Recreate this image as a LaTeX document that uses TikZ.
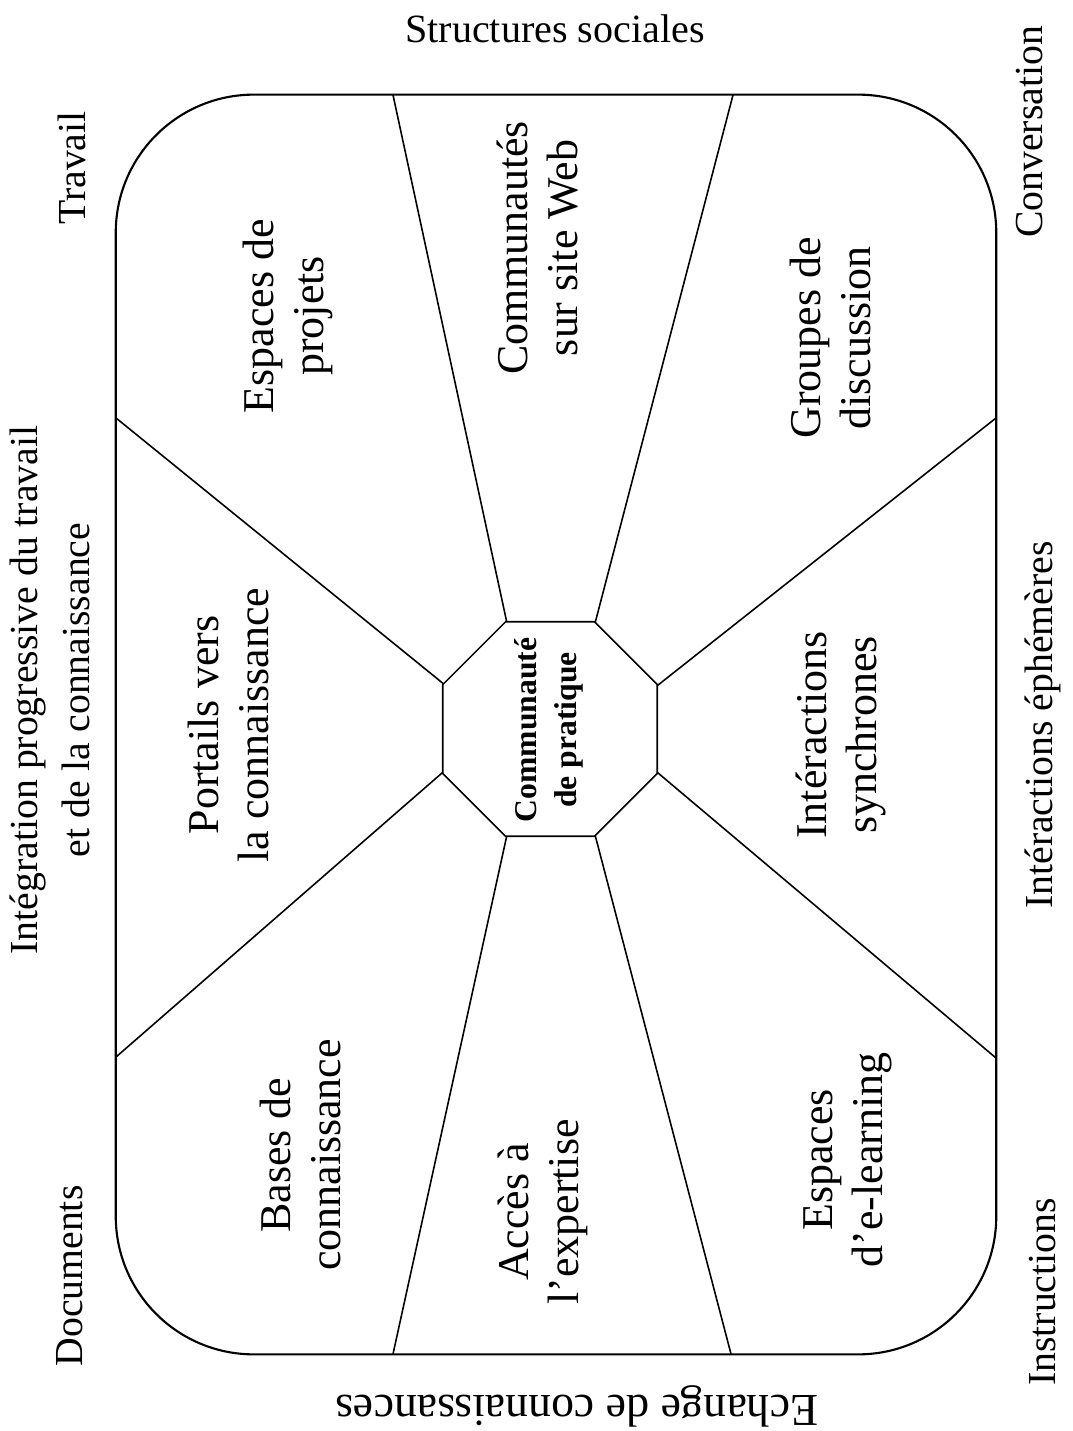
\documentclass[tikz,border=0pt]{standalone}
\usepackage{fontspec}
\setmainfont{Liberation Serif}
\usetikzlibrary{shapes.geometric}

\tikzset{
    secteur/.style={rotate=90, align=center, font=\fontsize{12.5}{14.2}\selectfont},
    axe/.style={rotate=90, align=center, font=\fontsize{11.3}{14.6}\selectfont},
    rayon/.style={line width=0.45pt},
}

\begin{document}
\begin{tikzpicture}[x=0.01cm, y=-0.01cm]
            \useasboundingbox (0,0) rectangle (1072,1431);
            % cadre et octogone
            \node[draw, line width=0.6pt, rounded corners=1.38cm, minimum width=8.8cm, minimum height=12.59cm] (cadre) at (556,724.5) {};
            \node[draw, rayon, regular polygon, regular polygon sides=8, minimum size=2.32cm, inner sep=0pt, outer sep=0pt] (cop) at (550,729) {};
            \node[rotate=90, align=center, font=\bfseries\fontsize{9}{11.3}\selectfont] (coptexte) at (549,730) {Communauté\\de pratique};
            % points sur le cadre
            \coordinate (h1) at (393,95);
            \coordinate (h2) at (733,95);
            \coordinate (d1) at (996,418);
            \coordinate (d2) at (996,1058);
            \coordinate (b2) at (731,1354);
            \coordinate (b1) at (393,1354);
            \coordinate (g2) at (116,1057);
            \coordinate (g1) at (116,418);
            \draw[rayon] (cop.112.5) -- (h1);
            \draw[rayon] (cop.67.5) -- (h2);
            \draw[rayon] (cop.22.5) -- (d1);
            \draw[rayon] (cop.-22.5) -- (d2);
            \draw[rayon] (cop.-67.5) -- (b2);
            \draw[rayon] (cop.-112.5) -- (b1);
            \draw[rayon] (cop.202.5) -- (g2);
            \draw[rayon] (cop.157.5) -- (g1);
            % secteurs
            \node[secteur] (projets) at (288,316) {Espaces de\\projets};
            \node[secteur] (web) at (538,248) {Communautés\\sur site Web};
            \node[secteur] (groupes) at (830,338) {Groupes de\\discussion};
            \node[secteur] (portails) at (228,725) {Portails vers\\la connaissance};
            \node[secteur] (synchro) at (841,735) {Intéractions\\synchrones};
            \node[secteur] (bases) at (300,1155) {Bases de\\connaissance};
            \node[secteur] (expertise) at (543,1212) {Accès à\\l’expertise};
            \node[secteur] (elearning) at (848,1160) {Espaces\\d’e-learning};
            % axes
            \node[font=\fontsize{11.4}{14}\selectfont] (structures) at (555,29) {Structures sociales};
            \node[rotate=180, font=\fontsize{13}{15}\selectfont] (echange) at (577,1406) {Echange de connaissances};
            \node[axe] (travail) at (72,168) {Travail};
            \node[axe] (integration) at (50,690) {Intégration progressive du travail\\et de la connaissance};
            \node[axe] (documents) at (70,1276) {Documents};
            \node[axe] (conversation) at (1030,132) {Conversation};
            \node[axe] (ephemeres) at (1043,725) {Intéractions éphémères};
            \node[axe] (instructions) at (1043,1292) {Instructions};
\end{tikzpicture}
\end{document}
